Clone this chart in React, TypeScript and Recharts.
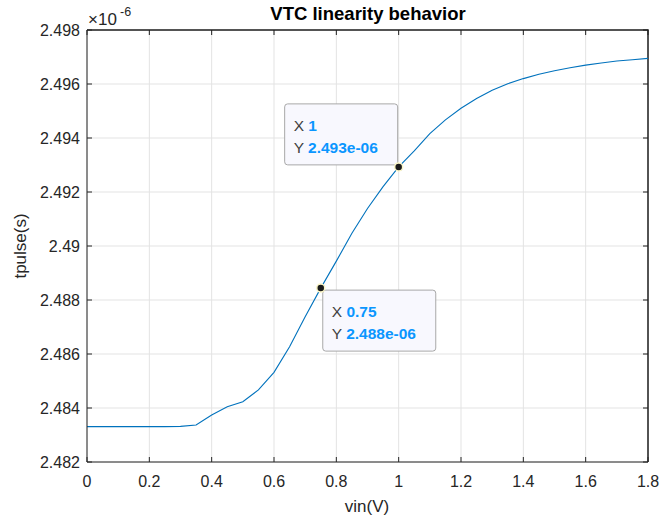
import React from "react";
import {
  LineChart,
  Line,
  XAxis,
  YAxis,
  CartesianGrid,
  ReferenceDot,
  Customized,
} from "recharts";

// vin (V) sweep and measured pulse width (units of 1e-6 s)
const vin = [
  0, 0.05, 0.1, 0.15, 0.2, 0.25, 0.3, 0.35, 0.4, 0.45, 0.5, 0.55, 0.6, 0.65,
  0.7, 0.75, 0.8, 0.85, 0.9, 0.95, 1.0, 1.05, 1.1, 1.15, 1.2, 1.25, 1.3, 1.35,
  1.4, 1.45, 1.5, 1.55, 1.6, 1.65, 1.7, 1.75, 1.8,
];
const tpulse = [
  2.48331, 2.48331, 2.48331, 2.48331, 2.48331, 2.48331, 2.48332, 2.48337,
  2.48374, 2.48405, 2.48423, 2.48467, 2.48532, 2.48627, 2.48738, 2.48844,
  2.48944, 2.49047, 2.49139, 2.4922, 2.49293, 2.49352, 2.49416, 2.49467,
  2.4951, 2.49546, 2.49577, 2.49601, 2.4962, 2.49636, 2.49649, 2.4966,
  2.4967, 2.49678, 2.49685, 2.4969, 2.49695,
];
const xTicks = [0, 0.2, 0.4, 0.6, 0.8, 1.0, 1.2, 1.4, 1.6, 1.8];
const yTicks = [2.482, 2.484, 2.486, 2.488, 2.49, 2.492, 2.494, 2.496, 2.498];

// data tips shown on the curve
const tipA = { x: 1.0, y: 2.49293, xText: "1", yText: "2.493e-06" };
const tipB = { x: 0.75, y: 2.48844, xText: "0.75", yText: "2.488e-06" };

const data = vin.map((v, i) => ({ x: v, y: tpulse[i] }));

const FONT = '"Liberation Sans", Arial, Helvetica, sans-serif';
const AXIS = "#262626";
const tickStyle = { fill: AXIS, fontSize: 16, fontFamily: FONT };

// chart layout
const W = 662;
const H = 521;
const MARGIN = { top: 30, right: 14, bottom: 29, left: 7 };
const Y_AXIS_W = 80;
const X_AXIS_H = 30;
const PLOT = {
  left: MARGIN.left + Y_AXIS_W,
  top: MARGIN.top,
  right: W - MARGIN.right,
  bottom: H - MARGIN.bottom - X_AXIS_H,
};

const fmt = (v: number) => String(Number(v.toFixed(3)));

function DataTip(props: any) {
  const { cx, cy, tip, below } = props;
  if (cx == null || cy == null) return null;
  const w = 113;
  const h = 61;
  const bx = below ? cx + 2 : cx - w - 1;
  const by = below ? cy + 2 : cy - h - 2;
  return (
    <g>
      <rect
        x={bx}
        y={by}
        width={w}
        height={h}
        rx={3}
        fill="#f8f8fe"
        stroke="#a8a8a8"
        strokeWidth={1}
      />
      <text x={bx + 9} y={by + 27} fontFamily={FONT} fontSize={15.5}>
        <tspan fill="#404040">X </tspan>
        <tspan fill="#0a96ff" fontWeight="bold">
          {tip.xText}
        </tspan>
      </text>
      <text x={bx + 9} y={by + 49} fontFamily={FONT} fontSize={15.5}>
        <tspan fill="#404040">Y </tspan>
        <tspan fill="#0a96ff" fontWeight="bold">
          {tip.yText}
        </tspan>
      </text>
      <circle cx={cx} cy={cy} r={4} fill="#1a1a1a" stroke="#fbf6c8" strokeWidth={1.5} />
    </g>
  );
}

// box frame on top and right (MATLAB "box on") with inward ticks
function Frame() {
  const pw = PLOT.right - PLOT.left;
  const ph = PLOT.bottom - PLOT.top;
  const xs = xTicks.map((t) => PLOT.left + (t / 1.8) * pw);
  const ys = yTicks.map((t) => PLOT.bottom - ((t - 2.482) / 0.016) * ph);
  return (
    <g>
      <path
        d={`M${PLOT.left},${PLOT.top}H${PLOT.right}V${PLOT.bottom}`}
        stroke="#1f1f1f"
        strokeWidth={1.5}
        fill="none"
      />
      {xs.map((x, i) => (
        <line key={"tx" + i} x1={x} y1={PLOT.top} x2={x} y2={PLOT.top + 5} stroke="#1f1f1f" strokeWidth={1} />
      ))}
      {ys.map((y, i) => (
        <line key={"ty" + i} x1={PLOT.right} y1={y} x2={PLOT.right - 5} y2={y} stroke="#1f1f1f" strokeWidth={1} />
      ))}
    </g>
  );
}

function Labels() {
  return (
    <g fontFamily={FONT}>
      <Frame />
      <text x={368} y={20} textAnchor="middle" fontSize={18.5} fontWeight="bold" fill="#000">
        VTC linearity behavior
      </text>
      <text x={88} y={25} fontSize={17} fill={AXIS}>
        ×10
      </text>
      <text x={120} y={16} fontSize={12.5} fill={AXIS}>
        -6
      </text>
      <text x={367} y={512} textAnchor="middle" fontSize={17} fill={AXIS}>
        vin(V)
      </text>
      <text
        x={26}
        y={246}
        textAnchor="middle"
        fontSize={17}
        fill={AXIS}
        transform="rotate(-90 26 246)"
      >
        tpulse(s)
      </text>
    </g>
  );
}

export default function App() {
  return (
    <div style={{ position: "absolute", left: 0, top: 0, background: "#fff" }}>
      <LineChart width={W} height={H} data={data} margin={MARGIN}>
        <CartesianGrid stroke="#e3e3e3" strokeWidth={1} />
        <XAxis
          dataKey="x"
          type="number"
          domain={[0, 1.8]}
          ticks={xTicks}
          tickFormatter={(v: number) => String(Number(v.toFixed(1)))}
          height={X_AXIS_H}
          stroke={AXIS}
          tick={tickStyle}
          tickSize={-5}
          tickMargin={19}
          allowDataOverflow
        />
        <YAxis
          type="number"
          domain={[2.482, 2.498]}
          ticks={yTicks}
          tickFormatter={fmt}
          width={Y_AXIS_W}
          stroke={AXIS}
          tick={tickStyle}
          tickSize={-5}
          tickMargin={12}
          allowDataOverflow
        />
        <Line
          dataKey="y"
          stroke="#0072bd"
          strokeWidth={1.1}
          dot={false}
          type="linear"
          isAnimationActive={false}
        />
        <ReferenceDot
          x={tipA.x}
          y={tipA.y}
          r={4}
          shape={(p: any) => <DataTip {...p} tip={tipA} below={false} />}
        />
        <ReferenceDot
          x={tipB.x}
          y={tipB.y}
          r={4}
          shape={(p: any) => <DataTip {...p} tip={tipB} below={true} />}
        />
        <Customized component={Labels} />
      </LineChart>
    </div>
  );
}
